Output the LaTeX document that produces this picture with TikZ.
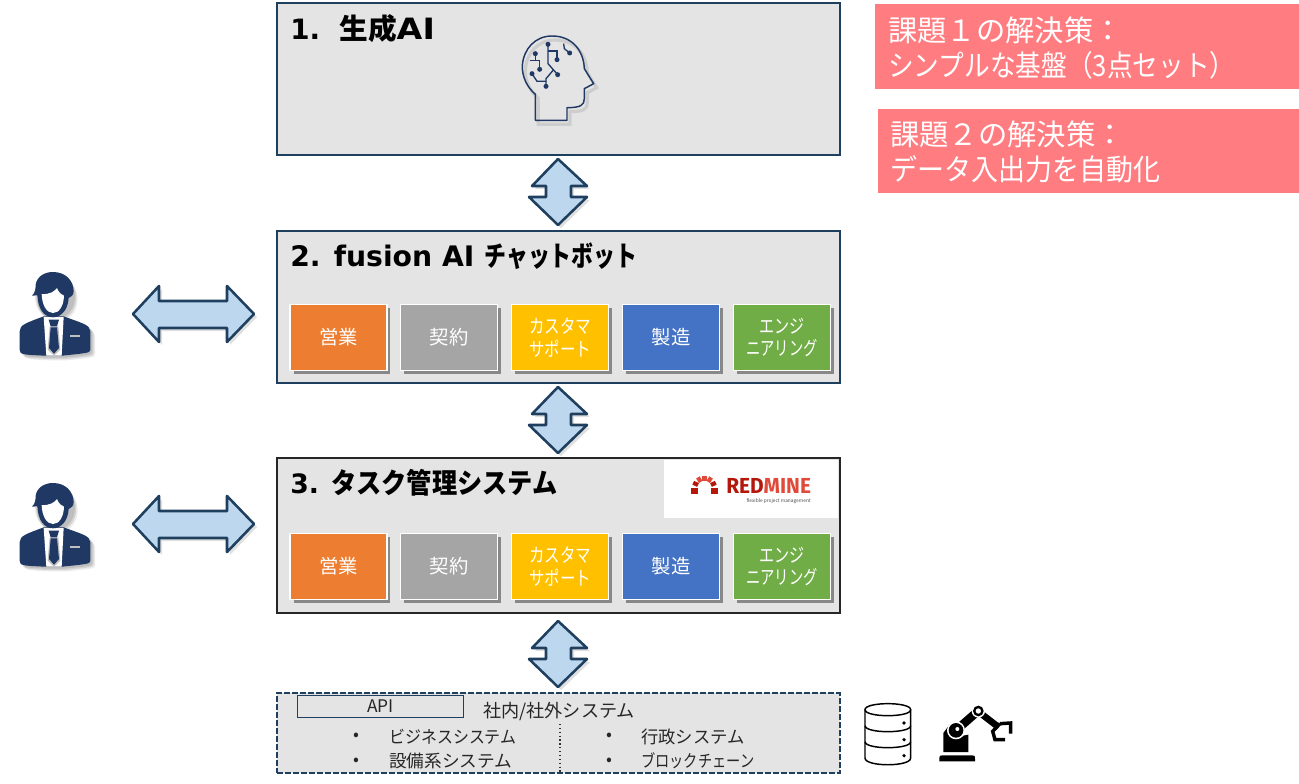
\documentclass[tikz,border=0pt]{standalone}
\usepackage{fontspec}
\usetikzlibrary{shadows}
\setmainfont{Noto Sans CJK JP}
\newfontfamily\ttlfont{DejaVu Sans}
\newfontfamily\redfont{Fira Sans}
\definecolor{navy}{HTML}{1F3F5F}
\definecolor{iconblue}{HTML}{1F3864}
\definecolor{boxgray}{HTML}{E4E4E4}
\definecolor{arrowblue}{HTML}{BDD7EE}
\definecolor{pinkbox}{HTML}{FF7C80}
\definecolor{c1}{HTML}{ED7D31}
\definecolor{c2}{HTML}{A5A5A5}
\definecolor{c3}{HTML}{FFC000}
\definecolor{c4}{HTML}{4472C4}
\definecolor{c5}{HTML}{70AD47}
\definecolor{rmdark}{HTML}{B5170B}
\definecolor{rmlight}{HTML}{E04A3A}
\newcommand{\fs}[2]{\fontsize{#1}{#2}\selectfont}
\tikzset{
  layerbox/.style={draw=navy,fill=boxgray,line width=1.7pt,minimum width=422pt,inner sep=0pt,outer sep=0pt},
  titletext/.style={anchor=west,inner sep=0pt,font=\fs{20pt}{24pt}\bfseries,text=black},
  dept/.style={draw=white,line width=1.2pt,minimum width=72.5pt,minimum height=49.5pt,inner sep=0pt,text=white,align=center,
    font=\fs{14.5pt}{17.2pt}\selectfont,drop shadow={shadow xshift=2.5pt,shadow yshift=-2.5pt,fill=black,opacity=.4}},
  pinkbox/.style={fill=pinkbox,anchor=north west,inner sep=0pt,outer sep=0pt},
  pinktext/.style={anchor=west,inner sep=0pt,text=white,align=left,font=\fs{22pt}{26.5pt}\selectfont},
  blockarrow/.style={draw=navy,fill=arrowblue,line width=1.9pt,line join=round},
  blockshadow/.style={fill=black,opacity=.12,draw=none},
  smalltext/.style={anchor=west,inner sep=0pt,font=\fs{13pt}{15pt}\selectfont,text=black!85},
  vdbl/.pic={
    \fill[blockshadow,shift={(3,3)}] (0,-33) -- (-26,-6) -- (-12,-6) -- (-12,5) -- (-29,5) -- (0,33) -- (29,5) -- (13,5) -- (13,-6) -- (29,-6) -- cycle;
    \draw[blockarrow] (0,-33) -- (-26,-6) -- (-12,-6) -- (-12,5) -- (-29,5) -- (0,33) -- (29,5) -- (13,5) -- (13,-6) -- (29,-6) -- cycle;
  },
  hdbl/.pic={
    \fill[blockshadow,shift={(3,3)}] (-60,0) -- (-34,-28) -- (-34,-13) -- (34,-13) -- (34,-28) -- (61,0) -- (34,28) -- (34,14) -- (-34,14) -- (-34,28) -- cycle;
    \draw[blockarrow] (-60,0) -- (-34,-28) -- (-34,-13) -- (34,-13) -- (34,-28) -- (61,0) -- (34,28) -- (34,14) -- (-34,14) -- (-34,28) -- cycle;
  },
  person/.pic={
    \begin{scope}[x=.25pt,y=-.25pt,shift={(-160,-160)}]
      \foreach \o/\a in {6/.10,10/.10,14/.08}{
        \fill[black,opacity=\a,shift={(\o,\o)}] (60,215) .. controls (60,195) and (80,190) .. (132,170) -- (192,170)
          .. controls (245,190) and (272,195) .. (272,215) -- (272,270) .. controls (272,280) and (262,280) .. (188,288)
          -- (135,288) .. controls (70,285) and (60,285) .. (60,270) -- cycle;
        \fill[black,opacity=\a,shift={(\o,\o)}] (160,105) ellipse[x radius=60,y radius=68];
      }
      \fill[iconblue] (60,215) .. controls (60,195) and (80,190) .. (132,170) -- (192,170)
          .. controls (245,190) and (272,195) .. (272,215) -- (272,270) .. controls (272,280) and (262,280) .. (188,288)
          -- (135,288) .. controls (70,285) and (60,285) .. (60,270) -- cycle;
      \fill[white] (132,172) -- (192,172) -- (186,288) -- (140,288) -- cycle;
      \fill[black!25] (150,200) -- (176,200) -- (182,270) -- (163,288) -- (144,270) -- cycle;
      \fill[iconblue] (147,180) -- (178,180) -- (172,200) -- (153,200) -- cycle;
      \fill[iconblue] (153,203) -- (172,203) -- (178,265) -- (163,282) -- (148,265) -- cycle;
      \fill[black!25] (212,225) rectangle (240,231);
      \fill[iconblue] (97,108) .. controls (108,100) and (108,80) .. (108,75)
         .. controls (112,50) and (135,37) .. (160,37) .. controls (200,37) and (222,65) .. (222,95)
         .. controls (222,110) and (212,110) .. (207,115)
         .. controls (205,150) and (185,173) .. (160,173) .. controls (135,173) and (115,150) .. (113,107) -- cycle;
      \fill[white] (126,103) .. controls (150,105) and (165,95) .. (172,85)
         .. controls (178,100) and (185,105) .. (193,108) .. controls (192,140) and (178,160) .. (160,160)
         .. controls (140,160) and (127,135) .. (126,103) -- cycle;
    \end{scope}
  },
  headicon/.pic={
    \begin{scope}[x=.25pt,y=-.25pt,shift={(-170,-170)}]
      \draw[black!30,line width=2.4pt,opacity=.45,shift={(9,12)}] (105,300) -- (105,222) .. controls (80,200) and (65,170) .. (66,135)
        .. controls (70,85) and (105,47) .. (155,47) .. controls (215,47) and (250,90) .. (252,145)
        -- (280,190) -- (252,205) -- (252,235) .. controls (252,255) and (240,262) .. (200,262) -- (200,300) -- cycle;
      \draw[iconblue,line width=1.1pt,line join=round] (105,300) -- (105,222) .. controls (80,200) and (65,170) .. (66,135)
        .. controls (70,85) and (105,47) .. (155,47) .. controls (215,47) and (250,90) .. (252,145)
        -- (280,190) -- (252,205) -- (252,235) .. controls (252,255) and (240,262) .. (200,262) -- (200,300) -- cycle;
      \begin{scope}[iconblue,line width=1pt]
        \draw (143,72) -- (143,130) -- (172,163);
        \draw (143,92) -- (170,92) -- (170,118);
        \draw (160,148) -- (137,175) -- (137,198);
        \draw (137,183) -- (110,183) -- (95,160);
        \draw (105,100) -- (105,120);
        \draw (88,120) -- (118,120) -- (118,147);
        \draw (190,70) -- (192,85) -- (208,98);
        \foreach \p in {(143,72),(170,118),(172,163),(137,198),(95,160),(105,100),(118,147),(208,98)}
          \fill \p circle (7.5);
      \end{scope}
    \end{scope}
  },
  dbicon/.pic={
    \begin{scope}[x=.25pt,y=-.25pt,shift={(-115,-130)},line width=1.1pt,black]
      \draw (46,60) .. controls (46,36) and (183,36) .. (183,60) .. controls (183,84) and (46,84) .. (46,60) -- cycle;
      \draw (46,60) -- (46,205) .. controls (46,232) and (183,232) .. (183,205) -- (183,60);
      \draw (46,108) .. controls (46,132) and (183,132) .. (183,108);
      \draw (46,156) .. controls (46,180) and (183,180) .. (183,156);
      \foreach \p in {(163,100),(163,150),(163,198)} \fill \p circle (5.5);
    \end{scope}
  },
  roboticon/.pic={
    \begin{scope}[x=.25pt,y=-.25pt,shift={(-375,-130)},black]
      \fill (268,207) .. controls (268,197) and (272,197) .. (278,197) -- (365,197) .. controls (372,197) and (375,197) .. (375,207) -- (375,215) -- (268,215) -- cycle;
      \fill (280,187) -- (280,130) -- (300,103) -- (330,140) -- (355,135) -- (355,187) -- cycle;
      \draw[white,line width=9pt,line cap=butt] (318,122) -- (382,66);
      \draw[line width=6.4pt] (318,122) -- (382,66);
      \draw[line width=5pt] (388,68) -- (445,112);
      \fill[white] (318,122) circle (27);
      \fill (318,122) circle (22);
      \fill[white] (322,118) circle (6);
      \fill[white] (385,64) circle (20);
      \fill (385,64) circle (16);
      \fill[white] (385,64) circle (8);
      \draw[line width=2.6pt,line join=miter] (450,102) -- (482,100) -- (482,132);
      \draw[line width=2.6pt,line join=miter] (450,102) -- (428,125) -- (435,150) -- (465,150);
    \end{scope}
  },
}
\begin{document}
\begin{tikzpicture}[x=.75pt,y=-.75pt]
\useasboundingbox (0,0) rectangle (1299,784);
% layer boxes
\node[layerbox,anchor=north west,minimum height=114pt] (b1) at (277,3) {};
\node[layerbox,anchor=north west,minimum height=114pt] (b2) at (277,231) {};
\node[layerbox,anchor=north west,minimum height=116pt,draw=black!85] (b3) at (277,458) {};
\node[layerbox,anchor=north west,minimum height=60pt,dash pattern=on 4.5pt off 1.5pt] (b4) at (277,693) {};
% titles
\node[titletext] (t1) at (290,29) {\scalebox{1.04}[1.05]{\ttlfont\bfseries 1.\ \ }{\fs{21.5pt}{24pt}生成}\scalebox{1.25}[1.1]{\ttlfont\bfseries AI}};
\node[titletext] (t2) at (290,256) {\scalebox{1.06}[1.06]{\ttlfont\bfseries 2. fusion AI}\hspace{7.5pt}\scalebox{.82}[1.05]{チャットボット}};
\node[titletext] (t3) at (290,483) {{\ttlfont\bfseries 3. }\scalebox{.945}[1.05]{タスク管理システム}};
% pink boxes
\node[pinkbox,minimum width=318pt,minimum height=63.75pt] (p1) at (875,4) {};
\node[pinkbox,minimum width=315.75pt,minimum height=63pt] (p2) at (878,109) {};
\node[pinktext] (pt1) at (888,48) {課題１の解決策：\\\scalebox{.875}[1]{シンプルな基盤（3点セット）}};
\node[pinktext] (pt2) at (890,152) {課題２の解決策：\\\scalebox{.92}[1]{データ入出力を自動化}};
% departments row 1
\node[dept,fill=c1] (a1) at (338.5,337.5) {営業};
\node[dept,fill=c2] (a2) at (449,337.5) {契約};
\node[dept,fill=c3] (a3) at (560,337.5) {\scalebox{.8}[1]{カスタマ}\\\scalebox{.8}[1]{サポート}};
\node[dept,fill=c4] (a4) at (671,337.5) {製造};
\node[dept,fill=c5] (a5) at (782,337.5) {\scalebox{.78}[1]{エンジ}\\\scalebox{.74}[1]{ニアリング}};
% departments row 2
\node[dept,fill=c1] (d1) at (338.5,566.5) {営業};
\node[dept,fill=c2] (d2) at (449,566.5) {契約};
\node[dept,fill=c3] (d3) at (560,566.5) {\scalebox{.8}[1]{カスタマ}\\\scalebox{.8}[1]{サポート}};
\node[dept,fill=c4] (d4) at (671,566.5) {製造};
\node[dept,fill=c5] (d5) at (782,566.5) {\scalebox{.78}[1]{エンジ}\\\scalebox{.74}[1]{ニアリング}};
% double arrows
\pic (v1) at (558,192) {vdbl};
\pic (v2) at (558,420) {vdbl};
\pic (v3) at (558,654) {vdbl};
\pic (h1) at (193,314) {hdbl};
\pic (h2) at (193,524) {hdbl};
% redmine
\node[fill=white,anchor=north west,minimum width=130.5pt,minimum height=43.5pt,inner sep=0pt] (rm) at (664,460) {};
\fill[rmdark] (691,488) rectangle (698,494);
\fill[rmdark] (711,488) rectangle (718,494);
\foreach \a/\c in {-155/rmdark,-122/rmlight,-90/rmlight,-58/rmlight,-25/rmdark}
  \draw[\c,line width=4pt,shift={(704.5,488)}] (\a-12:10) -- (\a+12:10);
\node[anchor=west,inner sep=0pt,text=rmdark,font=\redfont\bfseries\fs{16.3pt}{16pt}] (rmt) at (726,486)
  {\scalebox{.96}[1]{RED\textcolor{rmlight}{MINE}}};
\node[anchor=east,inner sep=0pt,text=black!70,font=\fs{3.6pt}{4pt}] (rms) at (811,501) {flexible project management};
% bottom box
\node[draw=navy,line width=.6pt,anchor=north west,minimum width=124.5pt,minimum height=16.5pt,inner sep=0pt,font=\fs{13pt}{14pt}\selectfont,text=black!85] (api) at (297,695) {API};
\node[smalltext,font=\fs{13.6pt}{15pt}\selectfont] (s0) at (483,711) {社内/社外システム};
\coordinate (dtop) at (560,724);
\coordinate (dbot) at (560,772);
\draw[black!80,line width=.9pt,dotted] (dtop) -- (dbot);
\node[smalltext] (b1a) at (353,737) {•};
\node[smalltext] (b1b) at (353,762) {•};
\node[smalltext] (b2a) at (606,737) {•};
\node[smalltext] (b2b) at (606,762) {•};
\node[smalltext] (s1) at (389,737) {\scalebox{.92}[1]{ビジネスシステム}};
\node[smalltext] (s2) at (389,761) {\scalebox{1.02}[1]{設備系システム}};
\node[smalltext] (s3) at (641,737) {\scalebox{1}[1]{行政システム}};
\node[smalltext] (s4) at (641,761) {\scalebox{.82}[1]{ブロックチェーン}};
% icons
\pic (head) at (557,77) {headicon};
\pic (p1i) at (53,313) {person};
\pic (p2i) at (53,524) {person};
\pic (db) at (888,733) {dbicon};
\pic (robot) at (975,733) {roboticon};
\end{tikzpicture}
\end{document}
